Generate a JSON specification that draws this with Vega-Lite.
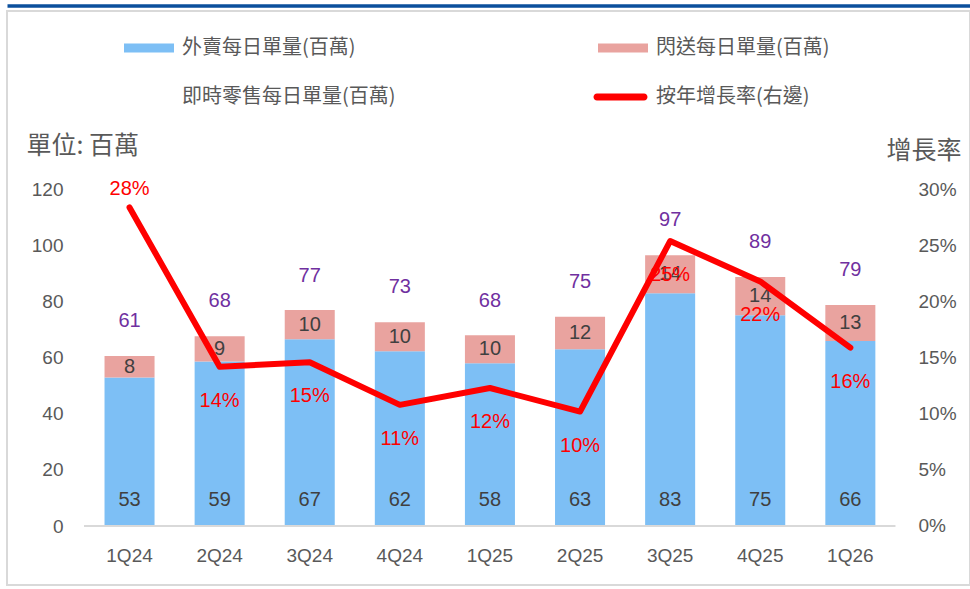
{
  "$schema": "https://vega.github.io/schema/vega-lite/v6.json",
  "width": 963,
  "height": 574,
  "autosize": {"type": "none"},
  "padding": {"left": 7, "top": 11, "right": 0, "bottom": 4},
  "background": "white",
  "config": {
    "view": {"stroke": "#D9D9D9", "strokeWidth": 2},
    "font": "Liberation Sans",
    "axis": {"grid": false, "ticks": false, "tickSize": 0, "domain": false, "labelColor": "#595959", "labelFont": "Liberation Sans", "labelFontSize": 19}
  },
  "datasets": {
    "bars": [
      {"q": "1Q24", "series": "外賣每日單量(百萬)", "value": 53.0},
      {"q": "1Q24", "series": "閃送每日單量(百萬)", "value": 7.6},
      {"q": "2Q24", "series": "外賣每日單量(百萬)", "value": 58.7},
      {"q": "2Q24", "series": "閃送每日單量(百萬)", "value": 9.0},
      {"q": "3Q24", "series": "外賣每日單量(百萬)", "value": 66.6},
      {"q": "3Q24", "series": "閃送每日單量(百萬)", "value": 10.4},
      {"q": "4Q24", "series": "外賣每日單量(百萬)", "value": 62.3},
      {"q": "4Q24", "series": "閃送每日單量(百萬)", "value": 10.4},
      {"q": "1Q25", "series": "外賣每日單量(百萬)", "value": 58.0},
      {"q": "1Q25", "series": "閃送每日單量(百萬)", "value": 10.0},
      {"q": "2Q25", "series": "外賣每日單量(百萬)", "value": 63.0},
      {"q": "2Q25", "series": "閃送每日單量(百萬)", "value": 11.6},
      {"q": "3Q25", "series": "外賣每日單量(百萬)", "value": 83.0},
      {"q": "3Q25", "series": "閃送每日單量(百萬)", "value": 13.6},
      {"q": "4Q25", "series": "外賣每日單量(百萬)", "value": 75.2},
      {"q": "4Q25", "series": "閃送每日單量(百萬)", "value": 13.6},
      {"q": "1Q26", "series": "外賣每日單量(百萬)", "value": 66.0},
      {"q": "1Q26", "series": "閃送每日單量(百萬)", "value": 12.8}
    ],
    "quarters": [
      {"q": "1Q24", "total": 61, "yoy": 0.284},
      {"q": "2Q24", "total": 68, "yoy": 0.142},
      {"q": "3Q24", "total": 77, "yoy": 0.146},
      {"q": "4Q24", "total": 73, "yoy": 0.108},
      {"q": "1Q25", "total": 68, "yoy": 0.123},
      {"q": "2Q25", "total": 75, "yoy": 0.102},
      {"q": "3Q25", "total": 97, "yoy": 0.254},
      {"q": "4Q25", "total": 89, "yoy": 0.218},
      {"q": "1Q26", "total": 79, "yoy": 0.159}
    ]
  },
  "resolve": {"scale": {"y": "independent"}, "axis": {"x": "independent"}},
  "layer": [
    {
      "layer": [
        {
          "data": {"name": "bars"},
          "mark": {"type": "bar", "width": {"band": 0.807}},
          "encoding": {
            "x": {
              "field": "q", "type": "nominal", "sort": null,
              "scale": {"type": "band", "domain": ["1Q24","2Q24","3Q24","4Q24","1Q25","2Q25","3Q25","4Q25","1Q26"], "paddingInner": 0.312, "paddingOuter": 1, "align": 0.508},
              "axis": {"orient": "bottom", "title": null, "offset": -30, "labelPadding": 0, "labelBaseline": "middle", "labelAngle": 0, "labelFontSize": 19}
            },
            "y": {
              "field": "value", "type": "quantitative", "stack": "zero",
              "scale": {"domain": [-21.04, 183.67], "zero": false, "nice": false},
              "axis": {
                "orient": "left", "values": [0, 20, 40, 60, 80, 100, 120], "offset": -56, "labelPadding": 0, "labelAlign": "right", "labelBaseline": "middle",
                "title": "單位: 百萬", "titleAngle": 0, "titleX": -37, "titleY": 134, "titleAlign": "left", "titleBaseline": "middle",
                "titleFont": "Noto Sans CJK TC", "titleFontSize": 25, "titleFontWeight": "normal", "titleColor": "#595959"
              }
            },
            "order": {"field": "series", "type": "nominal", "sort": "ascending"},
            "color": {
              "field": "series", "type": "nominal",
              "scale": {
                "domain": ["外賣每日單量(百萬)", "閃送每日單量(百萬)", "即時零售每日單量(百萬)", "按年增長率(右邊)"],
                "range": ["#7DBFF5", "#E9A39F", "#FFFFFF", "#FF0000"]
              },
              "legend": {
                "orient": "none", "direction": "horizontal", "legendX": 117, "legendY": 27, "columns": 2, "columnPadding": 197, "rowPadding": 29,
                "title": null, "labelFont": "Noto Sans CJK TC", "labelFontSize": 20, "labelColor": "#595959", "labelOffset": 38, "labelLimit": 500,
                "symbolSize": 400, "symbolType": "M-1,-0.45H4V0.45H-1Z",
                "encode": {
                  "symbols": {
                    "update": {
                      "shape": [
                        {"test": "datum.value === '按年增長率(右邊)'", "value": "M-1.1,-0.35H3.6A0.35,0.35 0 0 1 3.6,0.35H-1.1A0.35,0.35 0 0 1 -1.1,-0.35Z"},
                        {"value": "M-1,-0.45H4V0.45H-1Z"}
                      ],
                      "fill": {"scale": "color", "field": "value"},
                      "stroke": {"value": "transparent"},
                      "strokeWidth": {"value": 0},
                      "opacity": {"value": 1}
                    }
                  }
                }
              }
            }
          }
        },
        {
          "data": {"name": "bars"},
          "mark": {"type": "rule", "color": "#D9D9D9", "strokeWidth": 2},
          "encoding": {
            "x": {"datum": "1Q24", "type": "nominal", "bandPosition": -0.234},
            "x2": {"datum": "1Q26", "bandPosition": 1.221},
            "y": {"datum": 0, "type": "quantitative", "scale": {"domain": [-21.04, 183.67], "zero": false, "nice": false}}
          }
        },
        {
          "data": {"name": "bars"},
          "mark": {"type": "text", "fontSize": 20, "color": "#404040", "font": "Liberation Sans"},
          "encoding": {
            "x": {"field": "q", "type": "nominal", "sort": null},
            "y": {"field": "value", "type": "quantitative", "stack": "zero", "bandPosition": 0.5, "scale": {"domain": [-21.04, 183.67], "zero": false, "nice": false}},
            "detail": {"field": "series", "type": "nominal"},
            "order": {"field": "series", "type": "nominal", "sort": "ascending"},
            "text": {"condition": {"test": "datum.series === '外賣每日單量(百萬)'", "value": ""}, "field": "value", "type": "quantitative", "format": ".0f"}
          }
        },
        {
          "data": {"name": "bars"},
          "transform": [{"filter": "datum.series === '外賣每日單量(百萬)'"}],
          "mark": {"type": "text", "fontSize": 20, "color": "#404040", "font": "Liberation Sans", "dy": -26},
          "encoding": {
            "x": {"field": "q", "type": "nominal", "sort": null},
            "y": {"datum": 0, "type": "quantitative", "scale": {"domain": [-21.04, 183.67], "zero": false, "nice": false}},
            "text": {"field": "value", "type": "quantitative", "format": ".0f"}
          }
        },
        {
          "data": {"name": "quarters"},
          "mark": {"type": "text", "fontSize": 20, "color": "#7030A0", "font": "Liberation Sans", "dy": -34},
          "encoding": {
            "x": {"field": "q", "type": "nominal", "sort": null},
            "y": {"field": "total", "type": "quantitative", "scale": {"domain": [-21.04, 183.67], "zero": false, "nice": false}},
            "text": {"field": "total", "type": "quantitative", "format": ".0f"}
          }
        }
      ]
    },
    {
      "data": {"name": "quarters"},
      "layer": [
        {
          "mark": {"type": "line", "strokeWidth": 6, "strokeCap": "round", "strokeJoin": "round"},
          "encoding": {
            "x": {
              "field": "q", "type": "nominal", "sort": null,
              "axis": {"orient": "top", "labels": false, "ticks": false, "title": null, "domain": true, "domainColor": "#0B4F9C", "domainWidth": 3.5, "offset": 5.5}
            },
            "y": {
              "field": "yoy", "type": "quantitative",
              "scale": {"domain": [-0.0526, 0.4591], "zero": false, "nice": false},
              "axis": {
                "orient": "right", "values": [0, 0.05, 0.1, 0.15, 0.2, 0.25, 0.3], "format": ".0%", "offset": -52, "labelPadding": 0, "labelAlign": "left", "labelBaseline": "middle",
                "title": "增長率", "titleAngle": 0, "titleX": -32, "titleY": 139, "titleAlign": "left", "titleBaseline": "middle",
                "titleFont": "Noto Sans CJK TC", "titleFontSize": 25, "titleFontWeight": "normal", "titleColor": "#595959"
              }
            },
            "color": {"datum": "按年增長率(右邊)", "type": "nominal"}
          }
        },
        {
          "transform": [{"filter": "datum.q === '1Q24'"}],
          "mark": {"type": "text", "fontSize": 20, "color": "#FF0000", "font": "Liberation Sans", "dy": -18},
          "encoding": {
            "x": {"field": "q", "type": "nominal", "sort": null},
            "y": {"field": "yoy", "type": "quantitative"},
            "text": {"field": "yoy", "type": "quantitative", "format": ".0%"}
          }
        },
        {
          "transform": [{"filter": "datum.q !== '1Q24'"}],
          "mark": {"type": "text", "fontSize": 20, "color": "#FF0000", "font": "Liberation Sans", "dy": 34},
          "encoding": {
            "x": {"field": "q", "type": "nominal", "sort": null},
            "y": {"field": "yoy", "type": "quantitative"},
            "text": {"field": "yoy", "type": "quantitative", "format": ".0%"}
          }
        }
      ]
    }
  ]
}
